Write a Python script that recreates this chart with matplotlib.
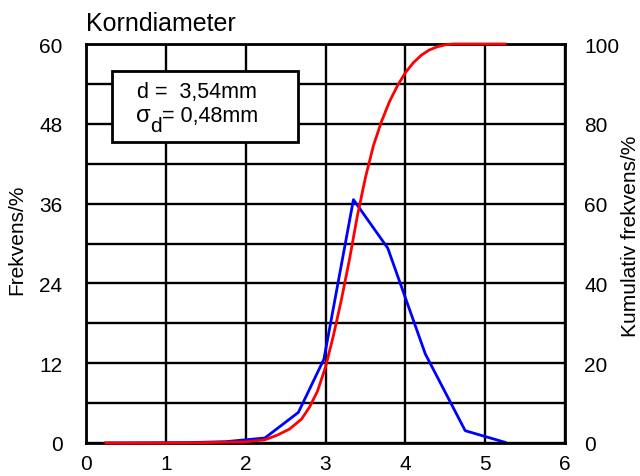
import matplotlib
matplotlib.use("Agg")
import matplotlib.pyplot as plt
from matplotlib.patches import Rectangle

plt.rcParams['font.family'] = ['Liberation Sans', 'DejaVu Sans']

# frequency (left axis, %)
freq_x = [0.25, 1.25, 1.75, 2.24, 2.66, 2.98, 3.35, 3.78, 4.25, 4.75, 5.25]
freq_y = [0.0, 0.05, 0.2, 0.75, 4.6, 12.6, 36.6, 29.3, 13.4, 1.85, 0.1]

# cumulative frequency (right axis, %)
cum_x = [0.25, 1.0, 1.5, 2.0, 2.24, 2.4, 2.55, 2.7, 2.8, 2.9, 3.0, 3.1, 3.2, 3.3,
         3.4, 3.5, 3.6, 3.7, 3.8, 3.9, 4.0, 4.1, 4.2, 4.3, 4.4, 4.5, 4.6, 5.25]
cum_y = [0.0, 0.0, 0.1, 0.3, 0.8, 2.0, 3.5, 6.0, 9.0, 13.0, 19.0, 27.0, 36.0, 46.0,
         57.0, 66.5, 74.5, 80.5, 85.5, 89.5, 92.8, 95.3, 97.2, 98.5, 99.3, 99.8, 100.0, 100.0]

left_ticks = [0, 6, 12, 18, 24, 30, 36, 42, 48, 54, 60]
left_labels = ['0', '', '12', '', '24', '', '36', '', '48', '', '60']
right_ticks = [0, 20, 40, 60, 80, 100]

fig = plt.figure(figsize=(6.4, 4.77), dpi=100)
ax = fig.add_axes([86/640, 1 - 444/477, (565-86)/640, (444-45)/477])

ax.set_xlim(0, 6)
ax.set_ylim(0, 60)
ax.set_xticks(range(0, 7))
ax.set_yticks(left_ticks)
ax.set_yticklabels(left_labels)
ax.grid(True, color='black', linewidth=1.7)
ax.set_axisbelow(True)
ax.tick_params(axis='x', length=0, labelsize=15, pad=8)
ax.tick_params(axis='y', length=0, labelsize=15, pad=17)
for s in ax.spines.values():
    s.set_linewidth(2.0)

ax.plot(freq_x, freq_y, color='#0000ff', linewidth=2.0)

ax2 = ax.twinx()
ax2.set_ylim(0, 100)
ax2.set_yticks(right_ticks)
ax2.tick_params(length=0, labelsize=15, pad=14)
ax2.plot(cum_x, cum_y, color='#ff0000', linewidth=2.0, clip_on=False, zorder=5)

fig.text(17/640, 1 - 240/477, 'Frekvens/%', fontsize=15, rotation=90,
         ha='center', va='center')
fig.text(630/640, 1 - 236/477, 'Kumulativ frekvens/%', fontsize=15, rotation=90,
         ha='center', va='center')
fig.text(86/640, 1 - 24/477, 'Korndiameter', fontsize=18, va='center')

box = Rectangle((112/640, 1 - 143/477), (298-112)/640, (143-72)/477,
                transform=fig.transFigure, facecolor='white',
                edgecolor='black', linewidth=2.0, zorder=10)
fig.patches.append(box)
fig.text(137/640, 1 - 93/477, 'd =  3,54mm', fontsize=15.5, va='center', zorder=11)
fig.text(136/640, 1 - 116/477, 'σ', fontsize=17, va='center', zorder=11)
fig.text(150/640, 1 - 127/477, 'd', fontsize=15, va='center', zorder=11)
fig.text(162/640, 1 - 117/477, '= 0,48mm', fontsize=15.5, va='center', zorder=11)

fig.savefig('out.png', dpi=100)
